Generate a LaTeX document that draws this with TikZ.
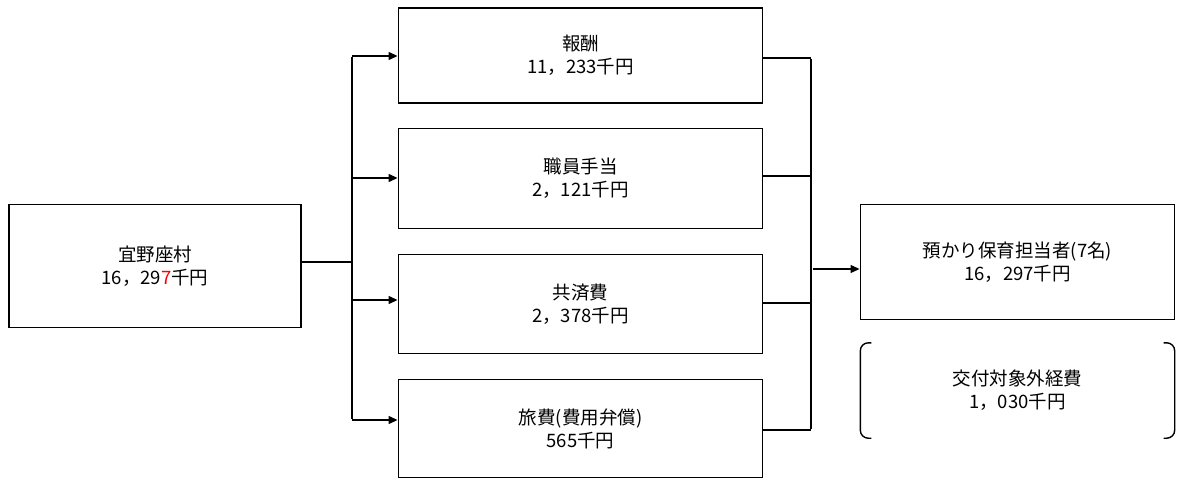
\documentclass[tikz,border=0pt]{standalone}
\usepackage{fontspec}
\newfontfamily\jp{Noto Sans CJK JP}
\usetikzlibrary{arrows.meta}
\begin{document}
\begin{tikzpicture}[x=1pt,y=-1pt,
  box/.style={draw,line width=1.9pt,minimum width=#1,inner sep=0pt,align=center,font=\jp\fontsize{18.5}{23}\selectfont},
  lbl/.style={align=center,inner sep=0pt,font=\jp\fontsize{18.5}{23}\selectfont},
  conn/.style={line width=1.5pt},
  arr/.style={line width=1.3pt,-{Triangle[length=9pt,width=8pt]}}]
\useasboundingbox (0,0) rectangle (1184,484);
% left box
\node[box=292pt,minimum height=123pt] (src) at (155,266) {宜野座村\\16，29\textcolor{red}{7}千円};
% middle boxes
\node[box=364pt,minimum height=95pt] (m1) at (580.5,55.5) {報酬\\11，233千円};
\node[box=364pt,minimum height=100pt] (m2) at (580.5,178.5) {職員手当\\2，121千円};
\node[box=364pt,minimum height=99pt] (m3) at (580.5,304) {共済費\\2，378千円};
\node[box=364pt,minimum height=98pt] (m4) at (580.5,428.5) {旅費(費用弁償)\\565千円};
% right box
\node[box=314pt,minimum height=115pt] (dst) at (1017.5,262) {預かり保育担当者(7名)\\16，297千円};
% bracket note
\node[lbl,minimum width=314pt,minimum height=95pt] (ex) at (1017.5,390.5) {交付対象外経費\\1，030千円};
\draw[line width=1.4pt,rounded corners=8pt] ([xshift=11pt]ex.north west) -- (ex.north west) -- (ex.south west) -- ([xshift=11pt]ex.south west);
\draw[line width=1.4pt,rounded corners=8pt] ([xshift=-11pt]ex.north east) -- (ex.north east) -- (ex.south east) -- ([xshift=-11pt]ex.south east);
% left connectors
\coordinate (jl) at (352,262);
\coordinate (l1) at (352,56);
\coordinate (l2) at (352,178);
\coordinate (l3) at (352,300);
\coordinate (l4) at (352,420);
\draw[conn] (src.east |- jl) -- (jl);
\draw[conn] ([yshift=-0.7pt]l1) -- ([yshift=0.7pt]l4);
\draw[arr] (l1) -- (l1 -| m1.west);
\draw[arr] (l2) -- (l2 -| m2.west);
\draw[arr] (l3) -- (l3 -| m3.west);
\draw[arr] (l4) -- (l4 -| m4.west);
% right connectors
\coordinate (r1) at (811,58);
\coordinate (r2) at (811,176);
\coordinate (r3) at (811,303);
\coordinate (r4) at (811,430);
\coordinate (ja) at (813,269);
\draw[conn] (m1.east |- r1) -- (r1);
\draw[conn] (m2.east |- r2) -- (r2);
\draw[conn] (m3.east |- r3) -- (r3);
\draw[conn] (m4.east |- r4) -- (r4);
\draw[conn] ([yshift=-0.7pt]r1) -- ([yshift=0.7pt]r4);
\draw[arr,line width=1.1pt] (ja) -- (ja -| dst.west);
\end{tikzpicture}
\end{document}
